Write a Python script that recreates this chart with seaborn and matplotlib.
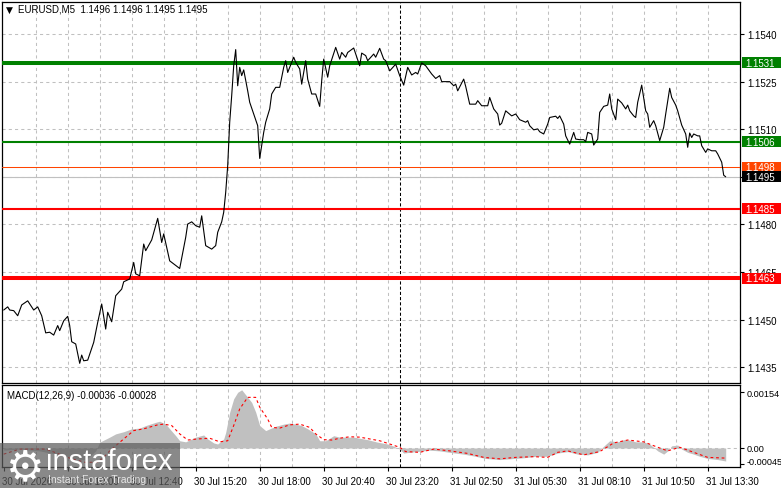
import matplotlib
matplotlib.use("Agg")
import matplotlib.pyplot as plt
import matplotlib.transforms as mtrans
import matplotlib.patches as mpatches
import seaborn as sns

# ---------------- data (bar index, 5-minute bars) ----------------
price_bar = [0, 2, 3, 5, 7, 9, 12, 15, 17, 19, 21, 23, 25, 27, 28, 30, 32, 33, 34, 36,
             38, 39, 40, 42, 45, 47, 49, 51, 52, 54, 56, 59, 60, 63, 65, 66, 68, 70, 71, 74,
             77, 79, 80, 83, 88, 91, 92, 94, 96, 98, 99, 101, 104, 106, 107, 109, 110, 111, 112, 113,
             114, 115, 116, 117, 118, 119, 120, 122, 123, 127, 128, 130, 131, 133, 134, 136, 138, 140, 141, 142,
             145, 146, 148, 149, 151, 152, 154, 156, 158, 159, 160, 162, 163, 166, 168, 169, 171, 172, 175, 178,
             179, 181, 182, 185, 186, 188, 190, 191, 193, 196, 198, 200, 202, 204, 206, 207, 209, 211, 214, 216,
             218, 219, 223, 225, 226, 227, 230, 231, 233, 236, 237, 239, 242, 243, 245, 247, 248, 249, 251, 254,
             256, 258, 261, 262, 263, 265, 267, 268, 270, 272, 273, 276, 277, 278, 280, 281, 283, 285, 286, 288,
             290, 291, 292, 294, 295, 297, 298, 300, 302, 303, 304, 306, 307, 309, 311, 312, 313, 315, 316, 317,
             319, 321, 322, 323, 325, 326, 328, 330, 331, 333, 334, 336, 337, 339, 341, 342, 343, 344, 345, 347,
             348, 349, 351, 352, 354, 356, 357, 359, 360, 361]
price_close = [1.14530, 1.14540, 1.14530, 1.14528, 1.14512, 1.14546, 1.14559, 1.14530, 1.14540, 1.14512,
               1.14458, 1.14460, 1.14451, 1.14481, 1.14465, 1.14496, 1.14510, 1.14481, 1.14430, 1.14423,
               1.14362, 1.14388, 1.14370, 1.14372, 1.14428, 1.14491, 1.14549, 1.14470, 1.14523, 1.14493,
               1.14575, 1.14596, 1.14619, 1.14628, 1.14680, 1.14644, 1.14638, 1.14738, 1.14717, 1.14751,
               1.14819, 1.14743, 1.14770, 1.14685, 1.14661, 1.14759, 1.14801, 1.14808, 1.14796, 1.14791,
               1.14827, 1.14733, 1.14722, 1.14733, 1.14775, 1.14808, 1.14838, 1.14901, 1.14985, 1.15122,
               1.15206, 1.15300, 1.15351, 1.15237, 1.15295, 1.15269, 1.15287, 1.15221, 1.15185, 1.15111,
               1.15008, 1.15090, 1.15122, 1.15164, 1.15211, 1.15232, 1.15232, 1.15295, 1.15316, 1.15279,
               1.15327, 1.15311, 1.15290, 1.15242, 1.15316, 1.15258, 1.15211, 1.15211, 1.15172, 1.15253,
               1.15321, 1.15264, 1.15300, 1.15358, 1.15321, 1.15342, 1.15327, 1.15342, 1.15356, 1.15300,
               1.15340, 1.15332, 1.15316, 1.15337, 1.15327, 1.15355, 1.15321, 1.15316, 1.15284, 1.15305,
               1.15269, 1.15239, 1.15295, 1.15271, 1.15279, 1.15274, 1.15309, 1.15300, 1.15274, 1.15260,
               1.15269, 1.15250, 1.15250, 1.15237, 1.15242, 1.15221, 1.15258, 1.15235, 1.15179, 1.15179,
               1.15190, 1.15174, 1.15174, 1.15200, 1.15164, 1.15148, 1.15113, 1.15119, 1.15158, 1.15142,
               1.15148, 1.15130, 1.15122, 1.15127, 1.15111, 1.15098, 1.15101, 1.15092, 1.15085, 1.15116,
               1.15137, 1.15141, 1.15134, 1.15142, 1.15116, 1.15079, 1.15053, 1.15090, 1.15069, 1.15067,
               1.15067, 1.15061, 1.15090, 1.15085, 1.15050, 1.15069, 1.15153, 1.15172, 1.15176, 1.15211,
               1.15164, 1.15130, 1.15195, 1.15183, 1.15164, 1.15176, 1.15158, 1.15142, 1.15137, 1.15185,
               1.15239, 1.15158, 1.15148, 1.15106, 1.15127, 1.15111, 1.15064, 1.15106, 1.15148, 1.15229,
               1.15200, 1.15176, 1.15158, 1.15113, 1.15085, 1.15043, 1.15088, 1.15074, 1.15085, 1.15079,
               1.15079, 1.15048, 1.15027, 1.15038, 1.15032, 1.15032, 1.15022, 1.14996, 1.14955, 1.14950]

macd_bar = [0, 8, 18, 28, 36, 41, 46, 48, 53, 56, 60, 64, 68, 71, 76, 78, 81, 83, 86, 88,
            91, 94, 96, 100, 102, 105, 107, 110, 111, 113, 115, 117, 119, 121, 124, 126, 128, 131, 133, 136,
            140, 143, 146, 149, 152, 156, 158, 161, 165, 168, 171, 175, 178, 182, 187, 192, 195, 198, 200, 203,
            208, 213, 218, 223, 230, 236, 241, 248, 253, 260, 266, 272, 277, 282, 287, 292, 297, 300, 303, 307,
            310, 313, 316, 320, 323, 327, 330, 332, 334, 337, 339, 342, 345, 348, 352, 357, 361]
macd_main = [-0.00006, -0.00003, -0.00008, -0.00019, -0.00030, -0.00033, -0.00008, 0.00016, 0.00030, 0.00039,
             0.00045, 0.00053, 0.00055, 0.00062, 0.00071, 0.00074, 0.00066, 0.00053, 0.00034, 0.00020,
             0.00017, 0.00025, 0.00030, 0.00036, 0.00025, 0.00014, 0.00011, 0.00025, 0.00043, 0.00099,
             0.00136, 0.00154, 0.00161, 0.00147, 0.00126, 0.00099, 0.00062, 0.00048, 0.00053, 0.00060,
             0.00066, 0.00069, 0.00066, 0.00062, 0.00053, 0.00039, 0.00020, 0.00020, 0.00034, 0.00030,
             0.00030, 0.00030, 0.00027, 0.00023, 0.00016, 0.00011, 0.00005, -0.00003, -0.00014, -0.00012,
             -0.00009, -0.00006, -0.00008, -0.00012, -0.00017, -0.00023, -0.00029, -0.00032, -0.00030, -0.00027,
             -0.00023, -0.00023, -0.00014, -0.00010, -0.00017, -0.00019, -0.00012, 0.00005, 0.00020, 0.00017,
             0.00023, 0.00022, 0.00017, 0.00017, 0.00011, -0.00008, -0.00017, -0.00008, 0.00006, 0.00008,
             -0.00003, -0.00012, -0.00017, -0.00023, -0.00029, -0.00032, -0.00036]

signal_bar = [0, 8, 21, 27, 33, 41, 47, 50, 53, 60, 65, 70, 77, 80, 84, 88, 92, 97, 103, 108,
              112, 115, 118, 122, 126, 128, 132, 134, 138, 143, 148, 153, 156, 160, 164, 168, 173, 178, 183, 188,
              193, 198, 201, 208, 215, 223, 232, 240, 248, 256, 265, 272, 277, 282, 290, 298, 305, 312, 320, 327,
              332, 338, 345, 352, 361]
signal_val = [-0.00017, -0.00003, -0.00003, -0.00015, -0.00028, -0.00040, -0.00039, -0.00026, -0.00008, 0.00025,
              0.00048, 0.00053, 0.00064, 0.00066, 0.00062, 0.00039, 0.00022, 0.00025, 0.00027, 0.00017,
              0.00020, 0.00062, 0.00108, 0.00140, 0.00140, 0.00113, 0.00080, 0.00057, 0.00055, 0.00064,
              0.00066, 0.00057, 0.00039, 0.00023, 0.00022, 0.00027, 0.00031, 0.00030, 0.00025, 0.00020,
              0.00011, 0.00002, -0.00010, -0.00012, -0.00003, -0.00008, -0.00015, -0.00026, -0.00030, -0.00026,
              -0.00024, -0.00026, -0.00012, -0.00008, -0.00019, -0.00010, 0.00014, 0.00022, 0.00017, 0.00002,
              -0.00008, 0.00002, -0.00012, -0.00026, -0.00028]

price_ticks = [1.1435, 1.1450, 1.1465, 1.1480, 1.1495, 1.1510, 1.1525, 1.1540]
price_tick_labels = ["1.1435", "1.1450", "1.1465", "1.1480", "", "1.1510", "1.1525", "1.1540"]
macd_ticks = [-0.00045, 0.0, 0.00154]
macd_tick_labels = ["-0.00045", "0.00", "0.00154"]

time_bars = [0, 32, 64, 96, 128, 160, 192, 224, 256, 288, 320, 352]
time_labels = ["30 Jul 2026", "30 Jul 10:00", "30 Jul 12:40", "30 Jul 15:20", "30 Jul 18:00",
               "30 Jul 20:40", "30 Jul 23:20", "31 Jul 02:50", "31 Jul 05:30", "31 Jul 08:10",
               "31 Jul 10:50", "31 Jul 13:30"]
grid_bars = list(range(16, 369, 16))
day_separator_bar = 198

level_values = [1.1531, 1.1506, 1.1498, 1.1485, 1.1463]
level_labels = ["1.1531", "1.1506", "1.1498", "1.1485", "1.1463"]
level_colors = ["#008000", "#008000", "#FF4500", "#FF0000", "#FF0000"]
level_widths = [2.9, 1.5, 0.75, 1.5, 2.9]
bid_price = 1.1495

title_text = "EURUSD,M5  1.1496 1.1496 1.1495 1.1495"
macd_title = "MACD(12,26,9) -0.00036 -0.00028"

# ---------------- figure ----------------
sns.set_style("white")
plt.rcParams['font.family'] = ['Liberation Sans', 'DejaVu Sans']
plt.rcParams['font.size'] = 7

W, H = 781, 489
fig = plt.figure(figsize=(W / 100, H / 100), dpi=100)
fig.patch.set_facecolor("white")


def px_axes(x0, y0, x1, y1):
    return fig.add_axes([x0 / W, 1 - y1 / H, (x1 - x0) / W, (y1 - y0) / H])


ax = px_axes(2, 2.7, 740, 384.3)
ax2 = px_axes(2, 385.7, 740, 468.3)

xlim = (-0.85, 368.15)
for a in (ax, ax2):
    a.set_xlim(*xlim)
    a.set_facecolor("white")
    for s in a.spines.values():
        s.set_color("black")
        s.set_linewidth(0.9)
        s.set_visible(True)
    for gb in grid_bars:
        a.axvline(gb, color="#C0C0C0", lw=0.75, ls=(0, (3, 3)), zorder=0.5)
    a.axvline(day_separator_bar, color="black", lw=0.75, ls=(0, (3, 2)), zorder=1)

ax.set_ylim(1.14299, 1.15502)
ax2.set_ylim(-0.000534, 0.00175)

# horizontal grid in main panel
for pt in price_ticks:
    ax.axhline(pt, color="#C0C0C0", lw=0.75, ls=(0, (3, 3)), zorder=0.5)
ax2.axhline(0, color="#C0C0C0", lw=0.75, ls=(0, (3, 3)), zorder=0.5)

# bid line
ax.axhline(bid_price, color="#C0C0C0", lw=0.8, zorder=1)

# price line
sns.lineplot(x=price_bar, y=price_close, ax=ax, color="black", lw=0.8, zorder=4)

# levels
yr = ax.get_ylim()[1] - ax.get_ylim()[0]
ax_h_px = 384.3 - 2.7
unit_per_px = yr / ax_h_px
blend = mtrans.blended_transform_factory(ax.transAxes, ax.transData)
bx0 = (742 - 2) / 738
bx1 = (781 - 2) / 738
tx = (745 - 2) / 738
for v, lab, c, w in zip(level_values, level_labels, level_colors, level_widths):
    ax.axhline(v, color=c, lw=w, zorder=3)
    ax.add_patch(mpatches.Rectangle((bx0, v - 5.5 * unit_per_px), bx1 - bx0, 11 * unit_per_px,
                                    transform=blend, facecolor=c, edgecolor="none",
                                    clip_on=False, zorder=6))
    ax.text(tx, v, lab, transform=blend, color="white", fontsize=7, va="center",
            ha="left", zorder=7, clip_on=False)
# current price box
ax.add_patch(mpatches.Rectangle((bx0, bid_price - 5.5 * unit_per_px), bx1 - bx0, 11 * unit_per_px,
                                transform=blend, facecolor="black", edgecolor="none",
                                clip_on=False, zorder=6))
ax.text(tx, bid_price, "1.1495", transform=blend, color="white", fontsize=7, va="center",
        ha="left", zorder=7, clip_on=False)

# y axes on right
for a in (ax, ax2):
    a.yaxis.tick_right()
    a.tick_params(axis="y", direction="out", length=3, width=0.8, color="black",
                  labelsize=7, pad=2, right=True, left=False, labelcolor="black")
ax2.tick_params(axis="y", labelsize=6.6, pad=1.5)
ax.set_yticks(price_ticks)
ax.set_yticklabels(price_tick_labels)
ax.set_xticks([])
ax.set_xlabel("")
ax.set_ylabel("")

# MACD
ax2.fill_between(macd_bar, 0, macd_main, color="#C0C0C0", lw=0, zorder=2)
sns.lineplot(x=signal_bar, y=signal_val, ax=ax2, color="#FF0000", lw=0.8,
             linestyle=(0, (2.5, 2.5)), zorder=4)
ax2.set_yticks(macd_ticks)
ax2.set_yticklabels(macd_tick_labels)
lbls = ax2.get_yticklabels()
lbls[0].set_transform(lbls[0].get_transform() + mtrans.ScaledTranslation(0, 4 / 100, fig.dpi_scale_trans))
ax2.set_ylabel("")

ax2.set_xticks(time_bars)
ax2.set_xticklabels(time_labels, ha="left")
ax2.tick_params(axis="x", direction="out", length=3, width=0.8, color="black",
                labelsize=7, pad=3, bottom=True, labelcolor="black")
for t in ax2.get_xticklabels():
    t.set_transform(t.get_transform() + mtrans.ScaledTranslation(-2 / 100, 0, fig.dpi_scale_trans))
ax2.set_xlabel("")

# titles
fig.text(9.5 / W, 1 - 10 / H, "\u25BC", fontsize=6.5, va="center", ha="center",
         family=["DejaVu Sans"], color="black")
fig.text(18 / W, 1 - 10 / H, title_text, fontsize=7, va="center", ha="left", color="black")
fig.text(7 / W, 1 - 396 / H, macd_title, fontsize=7, va="center", ha="left", color="black")

# watermark
fig.add_artist(mpatches.Rectangle((0, 0), 180 / W, 45 / H, transform=fig.transFigure,
                                  facecolor="#5c5c5c", edgecolor="none", alpha=0.72, zorder=10))
fig.text(25 / W, 1 - 468 / H, "\u2699", fontsize=31, va="center", ha="center",
         color="white", family=["DejaVu Sans"], zorder=11)
fig.text(46 / W, 1 - 462 / H, "instaforex", fontsize=21, va="center", ha="left",
         color="white", zorder=11)
fig.text(48 / W, 1 - 480 / H, "Instant Forex Trading", fontsize=7.5, va="center", ha="left",
         color="#e6e6e6", zorder=11)

fig.savefig("out.png", dpi=100, facecolor="white")
